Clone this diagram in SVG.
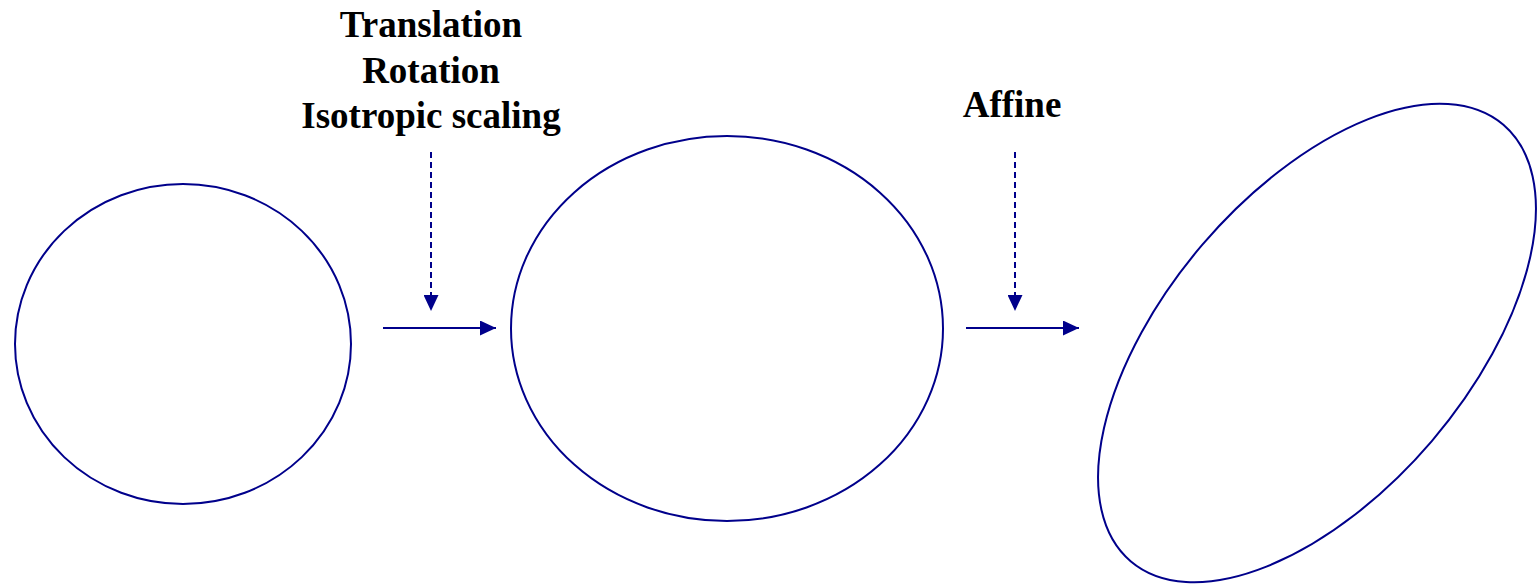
<svg xmlns="http://www.w3.org/2000/svg" width="1537" height="584" viewBox="0 0 1537 584">
<style>
.shape{fill:none;stroke:#00008B;stroke-width:2}
.conn{fill:none;stroke:#00008B;stroke-width:2}
.dash{stroke-dasharray:6 4}
.lbl{font-family:"Liberation Serif","Times New Roman",serif;font-weight:bold;font-size:37px;fill:#000;text-anchor:middle}
</style>
<defs>
<marker id="ah" viewBox="0 0 16 15" refX="16" refY="7.5" markerWidth="16" markerHeight="15" markerUnits="userSpaceOnUse" orient="auto">
<path d="M0,0 L16,7.5 L0,15 z" fill="#00008B"/>
</marker>
</defs>
<rect width="1537" height="584" fill="#fff"/>
<g id="circle">
<ellipse class="shape" cx="183" cy="344" rx="168" ry="160"/>
</g>
<g id="similar-ellipse">
<ellipse class="shape" cx="727" cy="328.5" rx="216" ry="192.5"/>
</g>
<g id="affine-ellipse">
<ellipse class="shape" cx="1317" cy="343" rx="287" ry="151" transform="rotate(-49.5 1317 343)"/>
</g>
<g id="label-similarity">
<text class="lbl" x="431" y="37">Translation</text>
<text class="lbl" x="431" y="83">Rotation</text>
<text class="lbl" x="431" y="128">Isotropic scaling</text>
</g>
<g id="label-affine">
<text class="lbl" x="1012" y="117">Affine</text>
</g>
<g id="connectors">
<line class="conn" x1="383" y1="328" x2="496" y2="328" marker-end="url(#ah)"/>
<line class="conn dash" x1="431" y1="152" x2="431" y2="311" marker-end="url(#ah)"/>
<line class="conn" x1="966" y1="328" x2="1079" y2="328" marker-end="url(#ah)"/>
<line class="conn dash" x1="1015" y1="152" x2="1015" y2="311" marker-end="url(#ah)"/>
</g>
</svg>
